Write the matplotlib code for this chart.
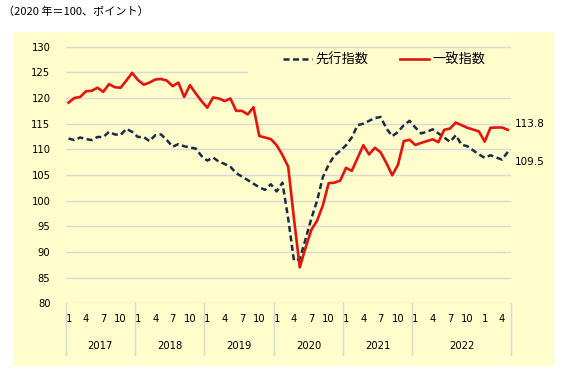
import matplotlib
matplotlib.use("Agg")
import matplotlib.pyplot as plt
import matplotlib.transforms as mtransforms
from matplotlib.patches import Rectangle

# ---- data (2017/1 .. 2023/5, monthly) ----
leading = [112.1, 111.8, 112.3, 112.0, 111.8, 112.4, 112.4, 113.4, 112.9, 112.8, 114.0, 113.4,
           112.4, 112.4, 111.6, 112.75, 112.9, 111.8, 110.5, 111.0, 110.6, 110.35, 110.15, 108.7,
           107.8, 108.4, 107.6, 107.15, 106.6, 105.35, 104.7, 104.0, 103.3, 102.6, 102.1, 103.2,
           101.8, 103.5, 96.5, 88.3, 88.6, 92.5, 96.5, 100.0, 104.6, 107.0, 108.8, 109.7,
           110.8, 112.3, 114.7, 115.0, 115.55, 116.1, 116.3, 114.05, 112.55, 113.4, 114.7, 115.55,
           114.25, 113.1, 113.4, 113.9, 113.1, 112.3, 111.45, 112.75, 110.9, 110.6, 109.8, 109.0,
           108.35, 108.85, 108.4, 108.0, 109.5]
coincident = [119.1, 120.0, 120.2, 121.3, 121.4, 122.0, 121.2, 122.7, 122.1, 122.0, 123.4, 124.9,
              123.5, 122.6, 123.0, 123.6, 123.7, 123.4, 122.3, 123.0, 120.2, 122.5, 120.9, 119.4,
              118.1, 120.1, 119.9, 119.4, 119.9, 117.5, 117.5, 116.8, 118.2, 112.6, 112.3, 112.0,
              110.8, 108.9, 106.6, 96.5, 87.0, 90.8, 94.3, 96.1, 99.1, 103.4, 103.5, 103.9,
              106.4, 105.8, 108.3, 110.8, 109.0, 110.3, 109.4, 107.3, 104.95, 107.0, 111.6, 111.85,
              110.85, 111.25, 111.6, 111.95, 111.4, 113.8, 114.05, 115.2, 114.7, 114.2, 113.85, 113.5,
              111.5, 114.2, 114.25, 114.25, 113.8]
months = [m for y in range(2017, 2023) for m in range(1, 13)] + [1, 2, 3, 4, 5]
year_labels = ["2017", "2018", "2019", "2020", "2021", "2022"]
year_spans = [12, 12, 12, 12, 12, 17]
series_names = ["先行指数", "一致指数"]
end_labels = ["109.5", "113.8"]
title = "（2020 年＝100、ポイント）"

BG = "#fffdcc"
GRID = "#d9d9d9"
RED = "#e3140e"
NAVY = "#1b2a47"

W, H = 563, 375
fig = plt.figure(figsize=(W / 100, H / 100), dpi=100)
fig.patch.set_facecolor("white")
bgrect = Rectangle((12.6 / W, 1 - 366 / H), 541 / W, 334 / H,
                   transform=fig.transFigure, facecolor=BG, edgecolor="none", zorder=-10)
fig.add_artist(bgrect)

ax_left, ax_right, ax_top, ax_bot = 65.7, 510.7, 44.1, 303.3
ax = fig.add_axes([ax_left / W, 1 - ax_bot / H, (ax_right - ax_left) / W, (ax_bot - ax_top) / H])
ax.set_facecolor(BG)
for s in ax.spines.values():
    s.set_visible(False)

n = len(leading)
x = list(range(n))
ax.set_xlim(-0.5, n - 0.5)
ax.set_ylim(80, 130.5)
ax.set_yticks(range(80, 131, 5))
ax.yaxis.grid(True, color=GRID, linewidth=1.0)
ax.set_axisbelow(True)
ax.tick_params(axis="y", length=0, pad=11, labelsize=7.2)

tick_pos = [i for i, m in enumerate(months) if m in (1, 4, 7, 10)]
ax.set_xticks(tick_pos)
ax.set_xticklabels([str(months[i]) for i in tick_pos])
ax.tick_params(axis="x", length=0, pad=8, labelsize=7.2)

def px_to_axy(py):
    return 1 - (py - ax_top) / (ax_bot - ax_top)

# legend cover box (hides gridline behind legend)
lx0 = (248 - ax_left) / (ax_right - ax_left)
ax.add_patch(Rectangle((lx0, px_to_axy(80)), 1 - lx0, px_to_axy(49) - px_to_axy(80),
                       transform=ax.transAxes, facecolor=BG, edgecolor="none", zorder=1.5))

l1, = ax.plot(x, leading, color=NAVY, lw=1.8, linestyle=(0, (2.4, 1.4)), zorder=3,
              label=series_names[0])
l2, = ax.plot(x, coincident, color=RED, lw=1.9, zorder=4, label=series_names[1])

# category separators below the axis
trans = mtransforms.blended_transform_factory(ax.transData, ax.transAxes)
y_sep = px_to_axy(355)
y_year = px_to_axy(346)
bounds = [-0.5]
for sp in year_spans:
    bounds.append(bounds[-1] + sp)
for b in bounds:
    ax.plot([b, b], [0, y_sep], transform=trans, color=GRID, lw=1.0, clip_on=False)
for lab, a, b in zip(year_labels, bounds[:-1], bounds[1:]):
    ax.text((a + b) / 2, y_year, lab, transform=trans, ha="center", va="center", fontsize=7.2)

# end labels
ax.annotate(end_labels[0], (n - 1, leading[-1]), xytext=(5, -7.4), textcoords="offset points",
            ha="left", va="center", fontsize=7.5, annotation_clip=False)
ax.annotate(end_labels[1], (n - 1, coincident[-1]), xytext=(5, 4.0), textcoords="offset points",
            ha="left", va="center", fontsize=7.5, annotation_clip=False)

leg = ax.legend(handles=[l1, l2], ncol=2, loc="center left",
                bbox_to_anchor=((283 - ax_left) / (ax_right - ax_left), px_to_axy(60.5)),
                frameon=False, borderpad=0, borderaxespad=0, handlelength=2.2,
                handletextpad=0.25, columnspacing=2.4,
                prop={"family": ["Noto Sans CJK JP", "DejaVu Sans"], "size": 9.5})

fig.text(3 / W, 1 - 12 / H, title, ha="left", va="center", fontsize=8,
         family=["Noto Sans CJK JP", "DejaVu Sans"])

fig.savefig("out.png", dpi=100)
